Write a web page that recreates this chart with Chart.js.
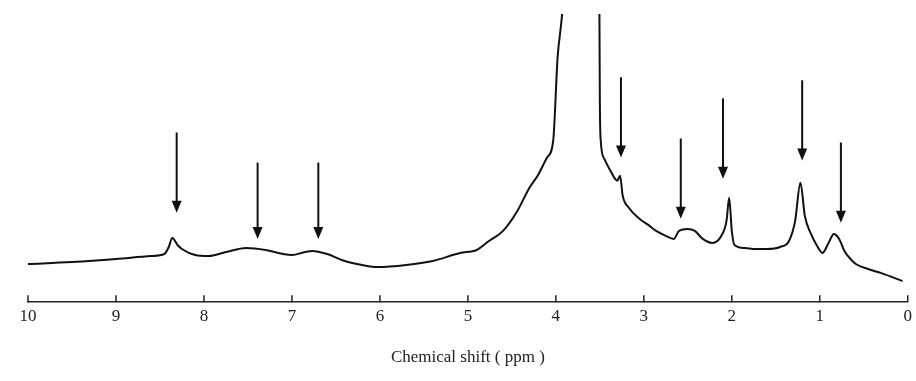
<!DOCTYPE html>
<html>
<head>
<meta charset="utf-8">
<script src="https://cdn.jsdelivr.net/npm/chart.js@4/dist/chart.umd.min.js"></script>
<style>
  html, body { margin: 0; padding: 0; background: #fff; }
  #wrap { width: 916px; height: 381px; }
</style>
</head>
<body>
<div id="wrap"><canvas id="myChart"></canvas></div>
<script>
// chemical shift (ppm) and signal intensity
const shiftPpm = [10.0, 9.5, 9.0, 8.6, 8.45, 8.4, 8.36, 8.3, 8.25, 8.1, 7.95, 7.75, 7.52, 7.3, 7.1, 7.0,
    6.85, 6.77, 6.6, 6.4, 6.2, 6.03, 5.7, 5.4, 5.09, 4.9, 4.76, 4.6, 4.45, 4.3, 4.2, 4.1, 4.03, 3.98,
    3.93, 3.85, 3.75, 3.62, 3.505, 3.5, 3.49, 3.45, 3.38, 3.3, 3.27, 3.24, 3.17, 3.05, 2.95, 2.86,
    2.75, 2.66, 2.6, 2.5, 2.42, 2.33, 2.22, 2.12, 2.06, 2.03, 2.0, 1.97, 1.85, 1.73, 1.6, 1.45, 1.35,
    1.28, 1.22, 1.17, 1.1, 1.03, 0.97, 0.9, 0.84, 0.78, 0.72, 0.65, 0.59, 0.45, 0.3, 0.06];
const intensity = [37, 39, 42, 45, 47, 54, 63, 56, 52, 46, 45, 49, 53, 51, 47, 46,
    49, 50, 47, 40, 36, 34, 36, 40, 48, 51, 60, 70, 88, 113, 126, 143, 160, 243,
    285, 400, 500, 450, 290, 200, 160, 142, 130, 120, 125, 105, 93, 82, 76, 70,
    65, 62, 70, 72, 70, 62, 58, 65, 80, 103, 70, 56, 53, 52, 52, 54, 60,
    80, 118, 85, 67, 55, 48, 58, 67, 62, 50, 42, 37, 32, 28, 20];

// arrows marking the peaks: position, tail height, tip height
const arrowPpm = [8.31, 7.39, 6.70, 3.26, 2.58, 2.10, 1.20, 0.76];
const arrowTail = [168, 138, 138, 223, 162, 202, 220, 158];
const arrowTip = [88, 62, 62, 143, 82, 122, 140, 78];

const xTicks = [10, 9, 8, 7, 6, 5, 4, 3, 2, 1, 0];

const serif = "'Liberation Serif', 'DejaVu Serif', serif";

const arrowPlugin = {
    id: 'arrows',
    afterDatasetsDraw(chart) {
        const c = chart.ctx, xs = chart.scales.x, ys = chart.scales.y;
        c.save();
        c.strokeStyle = '#111';
        c.fillStyle = '#111';
        c.lineWidth = 2;
        arrowPpm.forEach((p, i) => {
            const x = xs.getPixelForValue(p);
            const y0 = ys.getPixelForValue(arrowTail[i]);
            const y1 = ys.getPixelForValue(arrowTip[i]);
            c.beginPath();
            c.moveTo(x, y0);
            c.lineTo(x, y1 - 10);
            c.stroke();
            c.beginPath();
            c.moveTo(x - 5, y1 - 12);
            c.lineTo(x + 5, y1 - 12);
            c.lineTo(x, y1);
            c.closePath();
            c.fill();
        });
        c.restore();
    }
};

// little upward tick marks on the shift axis
const tickPlugin = {
    id: 'upTicks',
    afterDraw(chart) {
        const c = chart.ctx, xs = chart.scales.x;
        const yb = chart.chartArea.bottom;
        c.save();
        c.strokeStyle = '#222';
        c.lineWidth = 1.5;
        xTicks.forEach(v => {
            const x = xs.getPixelForValue(v);
            c.beginPath();
            c.moveTo(x, yb);
            c.lineTo(x, yb - 7);
            c.stroke();
        });
        c.restore();
    }
};

let ctx = document.getElementById('myChart');
new Chart(ctx, {
    type: 'line',
    data: {
        datasets: [{
            data: shiftPpm.map((p, i) => ({ x: p, y: intensity[i] })),
            borderColor: '#111',
            borderWidth: 2,
            pointRadius: 0,
            cubicInterpolationMode: 'monotone',
            fill: false
        }]
    },
    options: {
        responsive: true,
        maintainAspectRatio: false,
        animation: false,
        layout: { padding: { left: 28, right: 8, top: 14, bottom: 13 } },
        scales: {
            x: {
                type: 'linear',
                reverse: true,
                min: 0,
                max: 10,
                afterBuildTicks: s => { s.ticks = xTicks.map(v => ({ value: v })); },
                grid: { display: false, drawTicks: false },
                border: { display: true, color: '#222', width: 1.5 },
                ticks: {
                    color: '#222',
                    padding: 4,
                    maxRotation: 0,
                    autoSkip: false,
                    font: { family: serif, size: 17 }
                },
                title: {
                    display: true,
                    text: 'Chemical shift ( ppm )',
                    color: '#222',
                    padding: { top: 17, bottom: 0 },
                    font: { family: serif, size: 17 }
                }
            },
            y: {
                display: false,
                min: -1,
                max: 286
            }
        },
        plugins: {
            legend: { display: false },
            tooltip: { enabled: false }
        }
    },
    plugins: [arrowPlugin, tickPlugin]
});
</script>
</body>
</html>
